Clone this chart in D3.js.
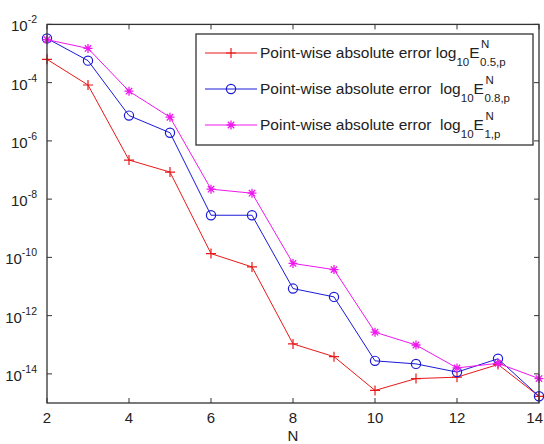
<!DOCTYPE html>
<html>
<head>
<meta charset="utf-8">
<script src="https://cdn.jsdelivr.net/npm/d3@7"></script>
<style>
  body { margin: 0; background: #fff; }
  text { font-family: "Liberation Sans", Arial, sans-serif; fill: #222; }
</style>
</head>
<body>
<div id="chart"></div>
<script>
const width = 544;
const height = 444;

const nValues = [2, 3, 4, 5, 6, 7, 8, 9, 10, 11, 12, 13, 14];
const err05 = [6.3e-4, 8.3e-5, 2.2e-7, 8.5e-8, 1.35e-10, 4.7e-11, 1.07e-13, 3.9e-14, 2.7e-15, 6.9e-15, 7.7e-15, 2.1e-14, 1.7e-15];
const err08 = [3.3e-3, 5.7e-4, 7.4e-6, 1.9e-6, 2.8e-9, 2.8e-9, 8.5e-12, 4.4e-12, 2.8e-14, 2.2e-14, 1.15e-14, 3.3e-14, 1.7e-15];
const err1 = [3.0e-3, 1.5e-3, 5.1e-5, 6.5e-6, 2.2e-8, 1.6e-8, 6.2e-11, 3.8e-11, 2.7e-13, 9.8e-14, 1.6e-14, 2.3e-14, 6.9e-15];
const xTicks = [2, 4, 6, 8, 10, 12, 14];
const yExps = [-2, -4, -6, -8, -10, -12, -14];
const legendSubs = ["0.5,p", "0.8,p", "1,p"];
const legendGaps = ["", "\u00a0", "\u00a0"];

const series = [
  { values: err05, color: "#e81818", marker: "plus" },
  { values: err08, color: "#1a1ad8", marker: "circle" },
  { values: err1, color: "#ee18ee", marker: "star" }
];

const margin = { left: 47, right: 5, top: 24.4, bottom: 41 };

const svg = d3.select("#chart")
  .append("svg")
  .attr("width", width)
  .attr("height", height);

const x = d3.scaleLinear()
  .domain([2, 14])
  .range([margin.left, width - margin.right]);

const y = d3.scaleLog()
  .domain([1e-15, 1e-2])
  .range([height - margin.bottom, margin.top]);

const plotLeft = x.range()[0], plotRight = x.range()[1];
const plotTop = y.range()[1], plotBottom = y.range()[0];
const tickLen = 5;

// ticks on all four sides, pointing inward
const tickG = svg.append("g").attr("stroke", "#333").attr("stroke-width", 1);
xTicks.forEach(t => {
  tickG.append("line").attr("x1", x(t)).attr("x2", x(t)).attr("y1", plotBottom).attr("y2", plotBottom - tickLen);
  tickG.append("line").attr("x1", x(t)).attr("x2", x(t)).attr("y1", plotTop).attr("y2", plotTop + tickLen);
});
yExps.forEach(e => {
  const v = Math.pow(10, e);
  tickG.append("line").attr("x1", plotLeft).attr("x2", plotLeft + tickLen).attr("y1", y(v)).attr("y2", y(v));
  tickG.append("line").attr("x1", plotRight).attr("x2", plotRight - tickLen).attr("y1", y(v)).attr("y2", y(v));
});

// x tick labels (last one kept inside the window)
svg.selectAll(".xlab")
  .data(xTicks)
  .enter()
  .append("text")
  .attr("class", "xlab")
  .attr("x", d => d === 14 ? width - 1 : x(d))
  .attr("y", plotBottom + 20)
  .attr("text-anchor", d => d === 14 ? "end" : "middle")
  .style("font-size", "15px")
  .text(d => d);

// y tick labels 10^e
yExps.forEach(e => {
  const t = svg.append("text")
    .attr("x", plotLeft - 10)
    .attr("y", y(Math.pow(10, e)) + 7)
    .attr("text-anchor", "end")
    .style("font-size", "15px");
  t.append("tspan").text("10");
  t.append("tspan").attr("dy", -8).style("font-size", "10.5px").text("-" + Math.abs(e));
});

svg.append("text")
  .attr("x", (plotLeft + plotRight) / 2)
  .attr("y", 441)
  .attr("text-anchor", "middle")
  .style("font-size", "15px")
  .text("N");

const line = d3.line()
  .x((d, i) => x(nValues[i]))
  .y(d => y(d));

function drawMarker(g, type, cx, cy, color) {
  if (type === "plus") {
    g.append("path").attr("d", `M${cx - 5},${cy}H${cx + 5}M${cx},${cy - 5}V${cy + 5}`)
      .attr("stroke", color).attr("stroke-width", 1.2).attr("fill", "none");
  } else if (type === "circle") {
    g.append("circle").attr("cx", cx).attr("cy", cy).attr("r", 4.6)
      .attr("stroke", color).attr("stroke-width", 1.2).attr("fill", "none");
  } else {
    const r = 4.5, d = 3.2;
    g.append("path").attr("d", `M${cx - r},${cy}H${cx + r}M${cx},${cy - r}V${cy + r}M${cx - d},${cy - d}L${cx + d},${cy + d}M${cx - d},${cy + d}L${cx + d},${cy - d}`)
      .attr("stroke", color).attr("stroke-width", 1.3).attr("fill", "none");
  }
}

const plotG = svg.append("g");
series.forEach(s => {
  plotG.append("path")
    .datum(s.values)
    .attr("d", line)
    .attr("fill", "none")
    .attr("stroke", s.color)
    .attr("stroke-width", 1);
  s.values.forEach((v, i) => drawMarker(plotG, s.marker, x(nValues[i]), y(v), s.color));
});

// frame
svg.append("rect")
  .attr("x", plotLeft).attr("y", plotTop)
  .attr("width", plotRight - plotLeft).attr("height", plotBottom - plotTop)
  .attr("fill", "none").attr("stroke", "#333").attr("stroke-width", 1.3);

// legend
const lg = svg.append("g");
lg.append("rect")
  .attr("x", 196).attr("y", 34)
  .attr("width", 337).attr("height", 111)
  .attr("fill", "#fff").attr("stroke", "#333").attr("stroke-width", 1.3);

series.forEach((s, i) => {
  const ly = 53 + i * 36;
  lg.append("line").attr("x1", 205).attr("x2", 257).attr("y1", ly).attr("y2", ly)
    .attr("stroke", s.color).attr("stroke-width", 1);
  drawMarker(lg, s.marker, 231, ly, s.color);
  const t = lg.append("text").attr("x", 260).attr("y", ly + 4.5).style("font-size", "15.5px");
  t.append("tspan").text("Point-wise absolute error " + legendGaps[i] + "log");
  t.append("tspan").attr("dy", 8).style("font-size", "11.5px").text("10");
  t.append("tspan").attr("dy", -8).text("E");
  const w = t.node().getComputedTextLength();
  lg.append("text").attr("x", 260 + w + 1.5).attr("y", ly - 5).style("font-size", "11.5px").text("N");
  lg.append("text").attr("x", 260 + w + 0.5).attr("y", ly + 13).style("font-size", "11.5px").text(legendSubs[i]);
});
</script>
</body>
</html>
